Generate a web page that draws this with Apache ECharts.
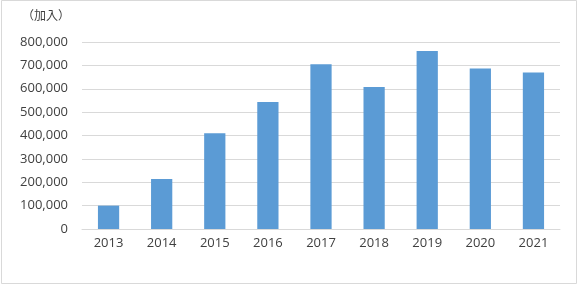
<!DOCTYPE html>
<html><head><meta charset="utf-8">
<script src="https://cdn.jsdelivr.net/npm/echarts@6/dist/echarts.min.js"></script>
<style>html,body{margin:0;padding:0;background:#fff}#c{width:580px;height:287px}</style>
</head><body><div id="c"></div>
<script>
const categories = ['2013','2014','2015','2016','2017','2018','2019','2020','2021'];
const values = [100000, 214000, 410000, 543000, 705000, 607000, 761000, 687000, 670000];
const unitLabel = '（加入）';

const chart = echarts.init(document.getElementById('c'), null, {renderer:'canvas'});
const font = '"Open Sans", "Noto Sans CJK JP", sans-serif';
chart.setOption({
  animation: false,
  backgroundColor: '#fff',
  grid: {left: 82, right: 20, top: 42, bottom: 58},
  graphic: [
    {type:'rect', shape:{x:1.5, y:0.5, width:575, height:283}, style:{fill:'none', stroke:'#d9d9d9', lineWidth:1}},
    {type:'text', left: 22, top: 11, style:{text: unitLabel, fill:'#404040', font: '12px ' + font}}
  ],
  xAxis: {
    type: 'category', data: categories,
    axisLine: {show: true, lineStyle: {color: '#d9d9d9'}},
    axisTick: {show: false},
    axisLabel: {color: '#404040', fontSize: 13, fontFamily: font, margin: 8}
  },
  yAxis: {
    type: 'value', min: 0, max: 800000, interval: 100000,
    axisLine: {show: false}, axisTick: {show: false},
    splitLine: {lineStyle: {color: '#d9d9d9'}},
    axisLabel: {color: '#404040', fontSize: 13, fontFamily: font, margin: 14,
      formatter: v => v.toLocaleString('en-US')}
  },
  series: [{type: 'bar', data: values, barWidth: '40%',
    itemStyle: {color: '#5b9bd5'}}]
});
</script></body></html>
